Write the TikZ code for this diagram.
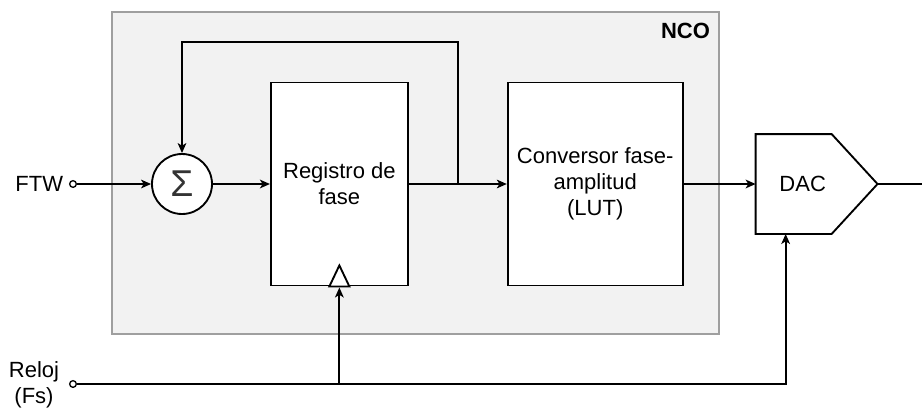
\documentclass[tikz,border=0pt]{standalone}
\usepackage{fontspec}
\setmainfont{Liberation Sans}
\usetikzlibrary{positioning, arrows.meta, calc}

\begin{document}
\begin{tikzpicture}[
  x=0.75pt, y=-0.75pt,
  font=\fontsize{16.5}{19.5}\selectfont,
  line width=1.4pt,
  ncobox/.style={draw=gray!75, fill=gray!10, line width=1.5pt,
    minimum width=455pt, minimum height=241.5pt},
  block/.style={draw, fill=white, align=center, minimum height=152.25pt,
    inner sep=2pt},
  sumnode/.style={draw, circle, fill=white, minimum size=45pt, inner sep=0pt,
    font=\fontsize{28}{28}\selectfont, text=black!80},
  port/.style={draw, circle, fill=white, inner sep=0pt, minimum size=5pt,
    line width=1pt},
  txt/.style={inner sep=0pt, align=center},
  arrow/.style={-{Stealth[length=7.5pt, width=6.5pt, inset=2pt]}},
]
  \useasboundingbox (0,0) rectangle (922,408);

  \node[ncobox] (nco) at (415.5,173) {};
  \node[txt, anchor=east, font=\fontsize{16.5}{19.5}\selectfont\bfseries]
    (ncolbl) at ($(nco.north east)+(-9,20)$) {NCO};

  \node[sumnode] (sum) at (182,184) {Σ};
  \node[block, minimum width=102.75pt, right=42.75pt of sum] (reg) {Registro de\\fase};
  \node[block, minimum width=131.25pt, right=73.5pt of reg] (conv)
    {Conversor fase-\\amplitud\\(LUT)};
  \node[minimum width=90pt, minimum height=73.5pt, inner sep=0pt,
    right=54pt of conv] (dac) {};

  % DAC outline
  \draw[fill=white] (dac.north west) -- ++(76,0) -- (dac.east)
    -- ($(dac.south west)+(76,0)$) -- (dac.south west) -- cycle;
  \node[txt] (daclbl) at ($(dac.west)+(47,0)$) {DAC};

  % inputs
  \node[port] (ftwin) at (73,184) {};
  \node[txt, anchor=east] (ftw) at (64,184) {FTW};
  \node[port] (clkin) at (73,384) {};
  \node[txt] (clk) at (34,385) {Reloj\\(Fs)};

  \coordinate (tap) at ($(reg.east)!0.5!(conv.west)$);
  \coordinate (clkdac) at ($(dac.south west)+(30,0)$);
  \coordinate (out) at (922,184);

  \draw[arrow] (ftwin) -- (sum);
  \draw[arrow] (sum) -- (reg);
  \draw[arrow] (reg) -- (conv);
  \draw[arrow] (tap) -- ++(0,-142) -| (sum.north);
  \draw[arrow] (conv) -- (dac.west);
  \draw (dac.east) -- (out);
  \draw[arrow] (clkin) -| (clkdac);
  \draw[arrow] (clkin -| reg.south) -- ($(reg.south)+(0,1)$);

  % clock input mark
  \draw[fill=white, line join=miter] ($(reg.south)+(-10,0)$)
    -- ($(reg.south)+(0,-21)$) -- ($(reg.south)+(10,0)$) -- cycle;
\end{tikzpicture}
\end{document}
